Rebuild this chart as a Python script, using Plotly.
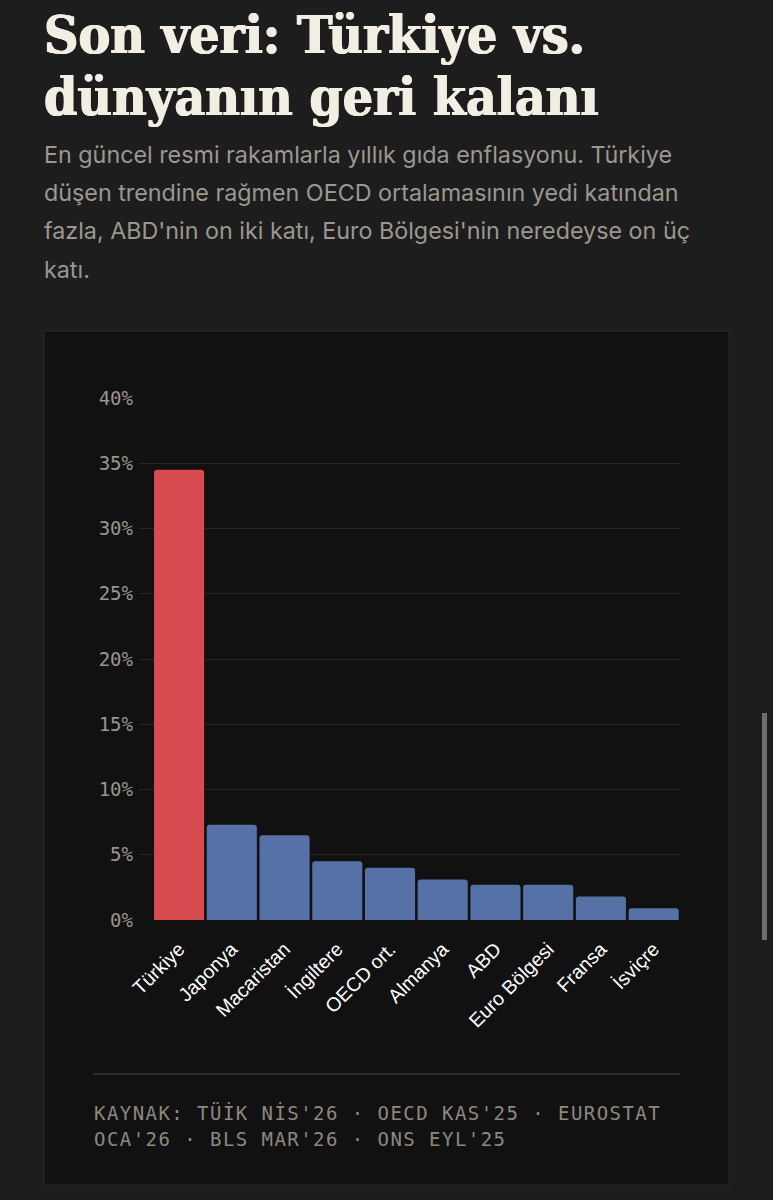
import plotly.graph_objects as go

# ---- data ----
countries = ["Türkiye", "Japonya", "Macaristan", "İngiltere", "OECD ort.",
             "Almanya", "ABD", "Euro Bölgesi", "Fransa", "İsviçre"]
food_inflation = [34.5, 7.3, 6.5, 4.5, 4.0, 3.1, 2.7, 2.7, 1.8, 0.9]
y_ticks = [0, 5, 10, 15, 20, 25, 30, 35, 40]
y_tick_labels = ["0%", "5%", "10%", "15%", "20%", "25%", "30%", "35%", "40%"]

title_lines = ["Son veri: Türkiye vs.", "dünyanın geri kalanı"]
subtitle_lines = [
    "En güncel resmi rakamlarla yıllık gıda enflasyonu. Türkiye",
    "düşen trendine rağmen OECD ortalamasının yedi katından",
    "fazla, ABD'nin on iki katı, Euro Bölgesi'nin neredeyse on üç",
    "katı.",
]
footer_lines = ["KAYNAK: TÜİK NİS'26 · OECD KAS'25 · EUROSTAT",
                "OCA'26 · BLS MAR'26 · ONS EYL'25"]

# ---- styles ----
W, H = 773, 1200
L, R, T, B = 139, 680, 398, 920
OUTER_BG = "#1d1d1e"
PANEL_BG = "#121111"
RED = "#d84b50"
BLUE = "#5671a5"
TITLE_COLOR = "#f3eee3"
bar_colors = [RED] + [BLUE] * (len(countries) - 1)


def px(x):
    return (x - L) / (R - L)


def py(y):
    return (B - y) / (B - T)


fig = go.Figure()
fig.add_trace(go.Bar(
    x=countries, y=food_inflation,
    marker=dict(color=bar_colors, line=dict(width=0)),
    hoverinfo="skip",
))

annotations = []
for line, yc in zip(title_lines, [33.5, 95.5]):
    annotations.append(dict(
        text=line, x=px(42), y=py(yc), xref="paper", yref="paper",
        xanchor="left", yanchor="middle", align="left", showarrow=False,
        font=dict(family="DejaVu Serif Condensed, DejaVu Serif", size=53,
                  color=TITLE_COLOR, weight=700,
                  shadow=f"0.7px 0 0 {TITLE_COLOR}, -0.7px 0 0 {TITLE_COLOR}"),
    ))
for line, yc in zip(subtitle_lines, [154, 192.5, 231, 269.5]):
    annotations.append(dict(
        text=line, x=px(42), y=py(yc), xref="paper", yref="paper",
        xanchor="left", yanchor="middle", align="left", showarrow=False,
        font=dict(family="Inter", size=23.3, color="#9c978f"),
    ))
for line, yc in zip(footer_lines, [1113, 1139]):
    annotations.append(dict(
        text=line, x=px(92), y=py(yc), xref="paper", yref="paper",
        xanchor="left", yanchor="middle", align="left", showarrow=False,
        font=dict(family="DejaVu Sans Mono", size=19, color="#8d8880"),
    ))

shapes = [
    # chart panel
    dict(type="rect", xref="paper", yref="paper", layer="below",
         x0=px(44), x1=px(729), y0=py(1185), y1=py(331),
         fillcolor=PANEL_BG, line=dict(color="#2a2a2a", width=1)),
    # footer rule
    dict(type="line", xref="paper", yref="paper",
         x0=px(93), x1=px(680), y0=py(1074), y1=py(1074),
         line=dict(color="#2b2b2b", width=2)),
    # scroll indicator
    dict(type="rect", xref="paper", yref="paper",
         x0=px(762), x1=px(767), y0=py(940), y1=py(713),
         fillcolor="#6f6f6f", line=dict(width=0)),
]

fig.update_layout(
    width=W, height=H,
    margin=dict(l=L, r=W - R, t=T, b=H - B, pad=0),
    paper_bgcolor=OUTER_BG,
    plot_bgcolor="rgba(0,0,0,0)",
    showlegend=False,
    bargap=0.05,
    barcornerradius=3,
    annotations=annotations,
    shapes=shapes,
    xaxis=dict(
        range=[-0.76, 9.5], tickangle=-45, showgrid=False, zeroline=False,
        showline=False, ticks="", ticklabelstandoff=13,
        tickfont=dict(family="Liberation Sans", size=19.5, color="#ffffff"),
        fixedrange=True,
    ),
    yaxis=dict(
        range=[0, 40], tickvals=y_ticks, ticktext=y_tick_labels,
        showgrid=True, gridcolor="#272727", gridwidth=1, zeroline=False,
        showline=False, ticks="", ticklabelstandoff=5,
        tickfont=dict(family="DejaVu Sans Mono", size=19, color="#9a958e"),
        fixedrange=True,
    ),
)

post = """
var gd = document.getElementById('{plot_id}');
function spaceFooter(){
  gd.querySelectorAll('.annotation text').forEach(function(t){
    var s = t.textContent || '';
    if (s.indexOf("KAYNAK") === 0 || s.indexOf("OCA'26") === 0) {
      t.style.letterSpacing = '1.45px';
    }
  });
}
spaceFooter();
if (gd.on) { gd.on('plotly_afterplot', spaceFooter); }
"""

fig.write_html("out.html", post_script=post, config={"displayModeBar": False})
